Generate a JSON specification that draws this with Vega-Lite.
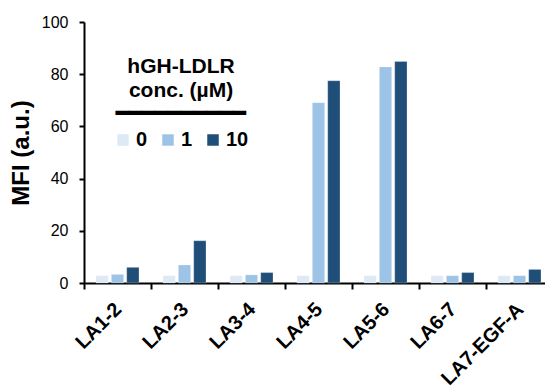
{
  "$schema": "https://vega.github.io/schema/vega-lite/v6.json",
  "width": 469,
  "height": 261,
  "padding": {"left": 9, "top": 14, "right": 0, "bottom": 5},
  "background": "white",
  "config": {
    "font": "Liberation Sans",
    "view": {"stroke": null}
  },
  "data": {
    "values": [
      {"domain": "LA1-2", "conc": "0", "mfi": 2.8},
      {"domain": "LA1-2", "conc": "1", "mfi": 3.3},
      {"domain": "LA1-2", "conc": "10", "mfi": 6.0},
      {"domain": "LA2-3", "conc": "0", "mfi": 2.8},
      {"domain": "LA2-3", "conc": "1", "mfi": 6.9},
      {"domain": "LA2-3", "conc": "10", "mfi": 16.2},
      {"domain": "LA3-4", "conc": "0", "mfi": 2.8},
      {"domain": "LA3-4", "conc": "1", "mfi": 3.1},
      {"domain": "LA3-4", "conc": "10", "mfi": 4.0},
      {"domain": "LA4-5", "conc": "0", "mfi": 2.8},
      {"domain": "LA4-5", "conc": "1", "mfi": 69.1},
      {"domain": "LA4-5", "conc": "10", "mfi": 77.5},
      {"domain": "LA5-6", "conc": "0", "mfi": 2.8},
      {"domain": "LA5-6", "conc": "1", "mfi": 82.8},
      {"domain": "LA5-6", "conc": "10", "mfi": 84.9},
      {"domain": "LA6-7", "conc": "0", "mfi": 2.8},
      {"domain": "LA6-7", "conc": "1", "mfi": 2.8},
      {"domain": "LA6-7", "conc": "10", "mfi": 4.0},
      {"domain": "LA7-EGF-A", "conc": "0", "mfi": 2.8},
      {"domain": "LA7-EGF-A", "conc": "1", "mfi": 2.8},
      {"domain": "LA7-EGF-A", "conc": "10", "mfi": 5.2}
    ]
  },
  "mark": {"type": "bar", "stroke": "white", "strokeOpacity": 0.5, "strokeWidth": 0.5},
  "encoding": {
    "x": {
      "field": "domain",
      "type": "nominal",
      "sort": null,
      "scale": {"paddingInner": 0, "paddingOuter": 0},
      "axis": {
        "title": null,
        "bandPosition": 0,
        "labelAngle": -45,
        "labelAlign": "right",
        "labelBaseline": "middle",
        "labelFontSize": 20,
        "labelFontWeight": "bold",
        "labelColor": "black",
        "labelOffset": 1,
        "labelPadding": 17,
        "tickSize": 6,
        "tickColor": "black",
        "tickWidth": 2,
        "domainColor": "black",
        "domainWidth": 2
      }
    },
    "xOffset": {
      "field": "conc",
      "type": "nominal",
      "sort": ["0", "1", "10"],
      "scale": {"paddingInner": 0.2, "paddingOuter": 0.78}
    },
    "y": {
      "field": "mfi",
      "type": "quantitative",
      "scale": {"domain": [0, 100], "nice": false},
      "axis": {
        "title": "MFI (a.u.)",
        "titleFontSize": 24,
        "titleFontWeight": "bold",
        "titleColor": "black",
        "titlePadding": 8,
        "values": [0, 20, 40, 60, 80, 100],
        "grid": false,
        "labelFontSize": 16,
        "labelColor": "black",
        "labelPadding": 11,
        "tickSize": 5,
        "tickColor": "black",
        "tickWidth": 2,
        "domainColor": "black",
        "domainWidth": 2
      }
    },
    "color": {
      "field": "conc",
      "type": "nominal",
      "sort": ["0", "1", "10"],
      "scale": {"domain": ["0", "1", "10"], "range": ["#dde9f5", "#9dc3e6", "#1f4e79"]},
      "legend": {
        "title": ["hGH-LDLR", "conc. (µM)", "━━━━━━━━━━"],
        "orient": "none",
        "legendX": 29,
        "legendY": 34,
        "direction": "horizontal",
        "titleFontSize": 21,
        "titleFontWeight": "bold",
        "titleColor": "black",
        "titleAlign": "center",
        "titleAnchor": "middle",
        "titleLineHeight": 23.5,
        "titlePadding": 6,
        "symbolType": "square",
        "symbolSize": 132,
        "symbolStrokeWidth": 0,
        "labelFontSize": 20,
        "labelFontWeight": "bold",
        "labelColor": "black",
        "labelOffset": 3,
        "columnPadding": 10
      }
    }
  }
}
